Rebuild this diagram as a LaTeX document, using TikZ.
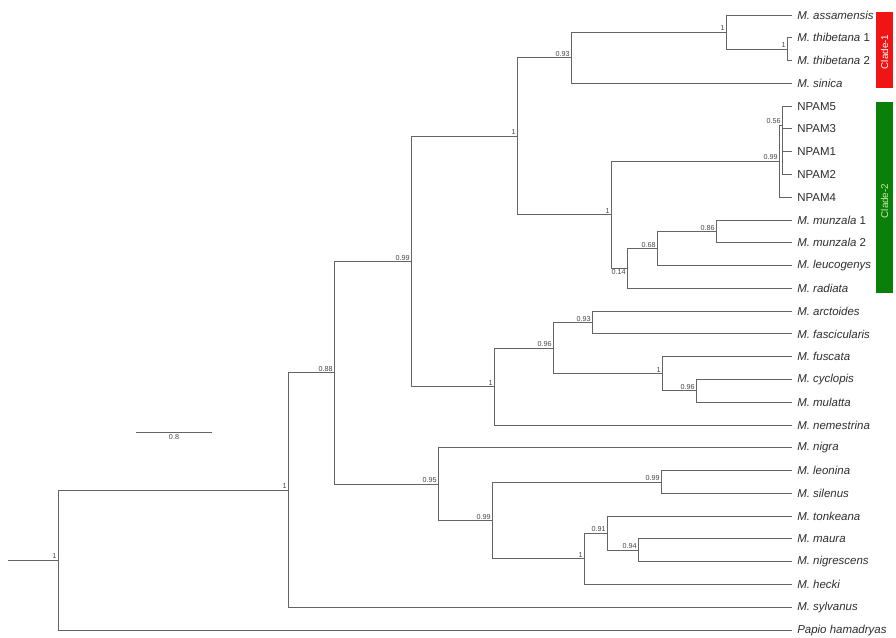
\documentclass[tikz,border=0pt]{standalone}
\usepackage{fontspec}
\setmainfont{Liberation Sans}
\definecolor{brc}{RGB}{100,100,100}
\definecolor{supc}{RGB}{70,70,70}
\definecolor{leafc}{RGB}{45,45,45}
\definecolor{cladered}{RGB}{240,20,20}
\definecolor{cladegreen}{RGB}{10,128,10}
\definecolor{cladetxt}{RGB}{205,235,170}
\tikzset{
  branch/.style={draw=brc, line width=0.75pt},
  leaf/.style={anchor=west, inner xsep=3.75pt, inner ysep=0pt, text=leafc, font=\fontsize{8.6}{10}\selectfont},
  sup/.style={inner sep=0.8pt, text=supc, font=\fontsize{5.4}{6}\selectfont}
}
\newcommand{\macsp}[1]{\textit{M. #1}}
\begin{document}
\begin{tikzpicture}[x=0.75pt, y=-0.75pt]
\useasboundingbox (0,0) rectangle (896,637);
% leaves
\node[leaf] (l1)  at (792,15)     {\macsp{assamensis}};
\node[leaf] (l2)  at (792,37.78)  {\macsp{thibetana} 1};
\node[leaf] (l3)  at (792,60.56)  {\macsp{thibetana} 2};
\node[leaf] (l4)  at (792,83.34)  {\macsp{sinica}};
\node[leaf] (l5)  at (792,106.12) {NPAM5};
\node[leaf] (l6)  at (792,128.9)  {NPAM3};
\node[leaf] (l7)  at (792,151.68) {NPAM1};
\node[leaf] (l8)  at (792,174.46) {NPAM2};
\node[leaf] (l9)  at (792,197.24) {NPAM4};
\node[leaf] (l10) at (792,220.02) {\macsp{munzala} 1};
\node[leaf] (l11) at (792,242.8)  {\macsp{munzala} 2};
\node[leaf] (l12) at (792,265.58) {\macsp{leucogenys}};
\node[leaf] (l13) at (792,288.36) {\macsp{radiata}};
\node[leaf] (l14) at (792,311.14) {\macsp{arctoides}};
\node[leaf] (l15) at (792,333.92) {\macsp{fascicularis}};
\node[leaf] (l16) at (792,356.7)  {\macsp{fuscata}};
\node[leaf] (l17) at (792,379.48) {\macsp{cyclopis}};
\node[leaf] (l18) at (792,402.26) {\macsp{mulatta}};
\node[leaf] (l19) at (792,425.04) {\macsp{nemestrina}};
\node[leaf] (l20) at (792,447.82) {\macsp{nigra}};
\node[leaf] (l21) at (792,470.6)  {\macsp{leonina}};
\node[leaf] (l22) at (792,493.38) {\macsp{silenus}};
\node[leaf] (l23) at (792,516.16) {\macsp{tonkeana}};
\node[leaf] (l24) at (792,538.94) {\macsp{maura}};
\node[leaf] (l25) at (792,561.72) {\macsp{nigrescens}};
\node[leaf] (l26) at (792,584.5)  {\macsp{hecki}};
\node[leaf] (l27) at (792,607.28) {\macsp{sylvanus}};
\node[leaf] (l28) at (792,630.06) {\textit{Papio hamadryas}};
% internal nodes
\coordinate (stem) at (8,560.05);
\coordinate (nRoot) at (58,560.05);
\coordinate (nA) at (288,490.03);
\coordinate (nB) at (334,372.78);
\coordinate (nC) at (411,261.42);
\coordinate (nE) at (517,136.24);
\coordinate (nF) at (571,57.71);
\coordinate (nG) at (726,32.09);
\coordinate (nH) at (787,49.17);
\coordinate (nI) at (611,214.77);
\coordinate (nJ) at (779,161.1);
\coordinate (nK) at (782,125);
\coordinate (nL) at (627,268.43);
\coordinate (nM) at (657,248.5);
\coordinate (nN) at (716,231.41);
\coordinate (nO) at (494,386.6);
\coordinate (nP) at (553,348.16);
\coordinate (nQ) at (592,322.53);
\coordinate (nR) at (662,373.79);
\coordinate (nS) at (696,390.87);
\coordinate (nD) at (438,484.13);
\coordinate (nT) at (492,520.43);
\coordinate (nU) at (661,481.99);
\coordinate (nV) at (584,558.87);
\coordinate (nW) at (607,533.25);
\coordinate (nX) at (638,550.33);
% branches
\draw[branch] (stem) -- (nRoot);
\draw[branch] (nRoot) |- (nA); \draw[branch] (nRoot) |- (l28.west);
\draw[branch] (nA) |- (nB); \draw[branch] (nA) |- (l27.west);
\draw[branch] (nB) |- (nC); \draw[branch] (nB) |- (nD);
\draw[branch] (nC) |- (nE); \draw[branch] (nC) |- (nO);
\draw[branch] (nE) |- (nF); \draw[branch] (nE) |- (nI);
\draw[branch] (nF) |- (nG); \draw[branch] (nF) |- (l4.west);
\draw[branch] (nG) |- (l1.west); \draw[branch] (nG) |- (nH);
\draw[branch] (nH) |- (l2.west); \draw[branch] (nH) |- (l3.west);
\draw[branch] (nI) |- (nJ); \draw[branch] (nI) |- (nL);
\draw[branch] (nJ) |- (nK); \draw[branch] (nJ) |- (l9.west);
\draw[branch] (nK) |- (l5.west); \draw[branch] (nK) |- (l6.west);
\draw[branch] (nK) |- (l7.west); \draw[branch] (nK) |- (l8.west);
\draw[branch] (nL) |- (nM); \draw[branch] (nL) |- (l13.west);
\draw[branch] (nM) |- (nN); \draw[branch] (nM) |- (l12.west);
\draw[branch] (nN) |- (l10.west); \draw[branch] (nN) |- (l11.west);
\draw[branch] (nO) |- (nP); \draw[branch] (nO) |- (l19.west);
\draw[branch] (nP) |- (nQ); \draw[branch] (nP) |- (nR);
\draw[branch] (nQ) |- (l14.west); \draw[branch] (nQ) |- (l15.west);
\draw[branch] (nR) |- (l16.west); \draw[branch] (nR) |- (nS);
\draw[branch] (nS) |- (l17.west); \draw[branch] (nS) |- (l18.west);
\draw[branch] (nD) |- (l20.west); \draw[branch] (nD) |- (nT);
\draw[branch] (nT) |- (nU); \draw[branch] (nT) |- (nV);
\draw[branch] (nU) |- (l21.west); \draw[branch] (nU) |- (l22.west);
\draw[branch] (nV) |- (nW); \draw[branch] (nV) |- (l26.west);
\draw[branch] (nW) |- (l23.west); \draw[branch] (nW) |- (nX);
\draw[branch] (nX) |- (l24.west); \draw[branch] (nX) |- (l25.west);
% support values
\node[sup, anchor=south east] (sRoot) at (nRoot) {1};
\node[sup, anchor=south east] (sA) at (nA) {1};
\node[sup, anchor=south east] (sB) at (nB) {0.88};
\node[sup, anchor=south east] (sC) at (nC) {0.99};
\node[sup, anchor=south east] (sE) at (nE) {1};
\node[sup, anchor=south east] (sF) at (nF) {0.93};
\node[sup, anchor=south east] (sG) at (nG) {1};
\node[sup, anchor=south east] (sH) at (nH) {1};
\node[sup, anchor=south east] (sI) at (nI) {1};
\node[sup, anchor=south east] (sJ) at (nJ) {0.99};
\node[sup, anchor=south east] (sK) at (nK) {0.56};
\node[sup, anchor=north east] (sL) at (nL) {0.14};
\node[sup, anchor=south east] (sM) at (nM) {0.68};
\node[sup, anchor=south east] (sN) at (nN) {0.86};
\node[sup, anchor=south east] (sO) at (nO) {1};
\node[sup, anchor=south east] (sP) at (nP) {0.96};
\node[sup, anchor=south east] (sQ) at (nQ) {0.93};
\node[sup, anchor=south east] (sR) at (nR) {1};
\node[sup, anchor=south east] (sS) at (nS) {0.96};
\node[sup, anchor=south east] (sD) at (nD) {0.95};
\node[sup, anchor=south east] (sT) at (nT) {0.99};
\node[sup, anchor=south east] (sU) at (nU) {0.99};
\node[sup, anchor=south east] (sV) at (nV) {1};
\node[sup, anchor=south east] (sW) at (nW) {0.91};
\node[sup, anchor=south east] (sX) at (nX) {0.94};
% scale bar
\coordinate (sb1) at (136,432);
\coordinate (sb2) at (212,432);
\draw[branch] (sb1) -- (sb2);
\node[sup, anchor=north] (sbl) at (174,433.5) {0.8};
% clade bars
\fill[cladered] (876,12) rectangle (893,88);
\node[rotate=90, text=white, font=\fontsize{7.4}{8}\selectfont] (c1) at (884.5,52) {Clade-1};
\fill[cladegreen] (876,102) rectangle (893,293);
\node[rotate=90, text=cladetxt, font=\fontsize{7.4}{8}\selectfont] (c2) at (884.5,201) {Clade-2};
\end{tikzpicture}
\end{document}
